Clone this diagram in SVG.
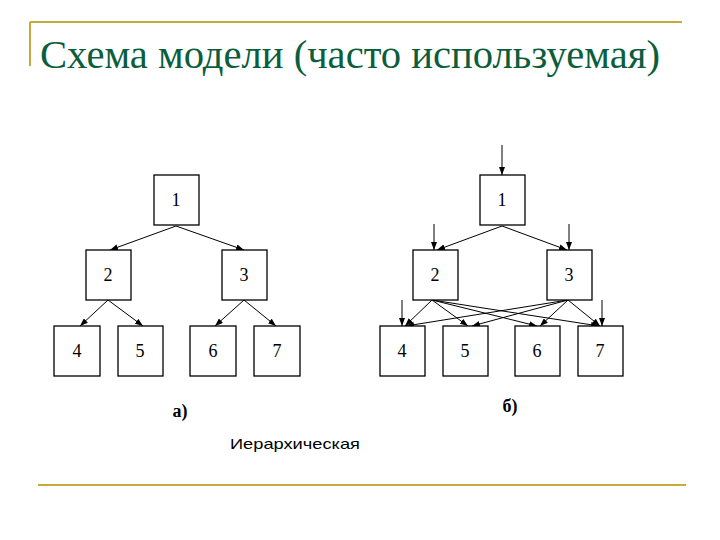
<svg xmlns="http://www.w3.org/2000/svg" width="720" height="540" viewBox="0 0 720 540">
<style>
.b{fill:#fff;stroke:#000;stroke-width:1.3}
.t{font-family:"Liberation Serif",serif;font-size:18px;text-anchor:middle}
.c line{stroke:#000;stroke-width:1;marker-end:url(#a)}
</style>
<defs><marker id="a" markerWidth="8" markerHeight="6" refX="8" refY="3" orient="auto" markerUnits="userSpaceOnUse"><path d="M0,0L8,3L0,6z"/></marker></defs>
<rect width="720" height="540" fill="#fff"/>
<g stroke="#c8a838" stroke-width="2"><line x1="30" y1="22" x2="682" y2="22"/><line x1="30" y1="22" x2="30" y2="66"/><line x1="38" y1="485" x2="686" y2="485"/></g>
<text x="40" y="68" font-family="Liberation Serif,serif" font-size="40" fill="#0b5e3c" textLength="620" lengthAdjust="spacingAndGlyphs">Схема модели (часто используемая)</text>
<g class="c">
<line x1="176" y1="226" x2="110" y2="250"/><line x1="176" y1="226" x2="244" y2="250"/>
<line x1="108" y1="300" x2="80" y2="326"/><line x1="108" y1="300" x2="143" y2="326"/>
<line x1="244" y1="300" x2="215" y2="326"/><line x1="244" y1="300" x2="276" y2="326"/>
<line x1="502" y1="145" x2="502" y2="175"/><line x1="434" y1="224" x2="434" y2="250"/><line x1="569" y1="224" x2="569" y2="250"/>
<line x1="402" y1="300" x2="402" y2="326"/><line x1="602" y1="300" x2="602" y2="326"/>
<line x1="502" y1="226" x2="437" y2="250"/><line x1="502" y1="226" x2="567" y2="250"/>
<line x1="432" y1="300" x2="405" y2="326"/><line x1="432" y1="300" x2="468" y2="326"/><line x1="432" y1="300" x2="537" y2="326"/><line x1="432" y1="300" x2="599" y2="326"/>
<line x1="568" y1="300" x2="406" y2="326"/><line x1="568" y1="300" x2="472" y2="326"/><line x1="568" y1="300" x2="540" y2="326"/><line x1="568" y1="300" x2="600" y2="326"/>
</g>
<g id="a1"><rect class="b" x="154" y="175" width="45" height="50"/><text class="t" x="176" y="206">1</text></g>
<g id="a2"><rect class="b" x="86" y="250" width="45" height="50"/><text class="t" x="108" y="281">2</text></g>
<g id="a3"><rect class="b" x="222" y="250" width="45" height="50"/><text class="t" x="244" y="281">3</text></g>
<g id="a4"><rect class="b" x="54" y="326" width="46" height="50"/><text class="t" x="77" y="357">4</text></g>
<g id="a5"><rect class="b" x="118" y="326" width="45" height="50"/><text class="t" x="140" y="357">5</text></g>
<g id="a6"><rect class="b" x="190" y="326" width="46" height="50"/><text class="t" x="213" y="357">6</text></g>
<g id="a7"><rect class="b" x="254" y="326" width="46" height="50"/><text class="t" x="277" y="357">7</text></g>
<g id="b1"><rect class="b" x="480" y="175" width="45" height="50"/><text class="t" x="502" y="206">1</text></g>
<g id="b2"><rect class="b" x="413" y="250" width="45" height="50"/><text class="t" x="435" y="281">2</text></g>
<g id="b3"><rect class="b" x="547" y="250" width="45" height="50"/><text class="t" x="569" y="281">3</text></g>
<g id="b4"><rect class="b" x="380" y="326" width="45" height="50"/><text class="t" x="402" y="357">4</text></g>
<g id="b5"><rect class="b" x="443" y="326" width="45" height="50"/><text class="t" x="465" y="357">5</text></g>
<g id="b6"><rect class="b" x="515" y="326" width="45" height="50"/><text class="t" x="537" y="357">6</text></g>
<g id="b7"><rect class="b" x="578" y="326" width="45" height="50"/><text class="t" x="600" y="357">7</text></g>
<text x="180" y="417" class="t" font-weight="bold" font-size="23">а)</text>
<text x="510" y="412" class="t" font-weight="bold" font-size="23">б)</text>
<text x="230" y="449" font-family="Liberation Sans,sans-serif" font-size="15" textLength="130" lengthAdjust="spacingAndGlyphs">Иерархическая</text>
</svg>
